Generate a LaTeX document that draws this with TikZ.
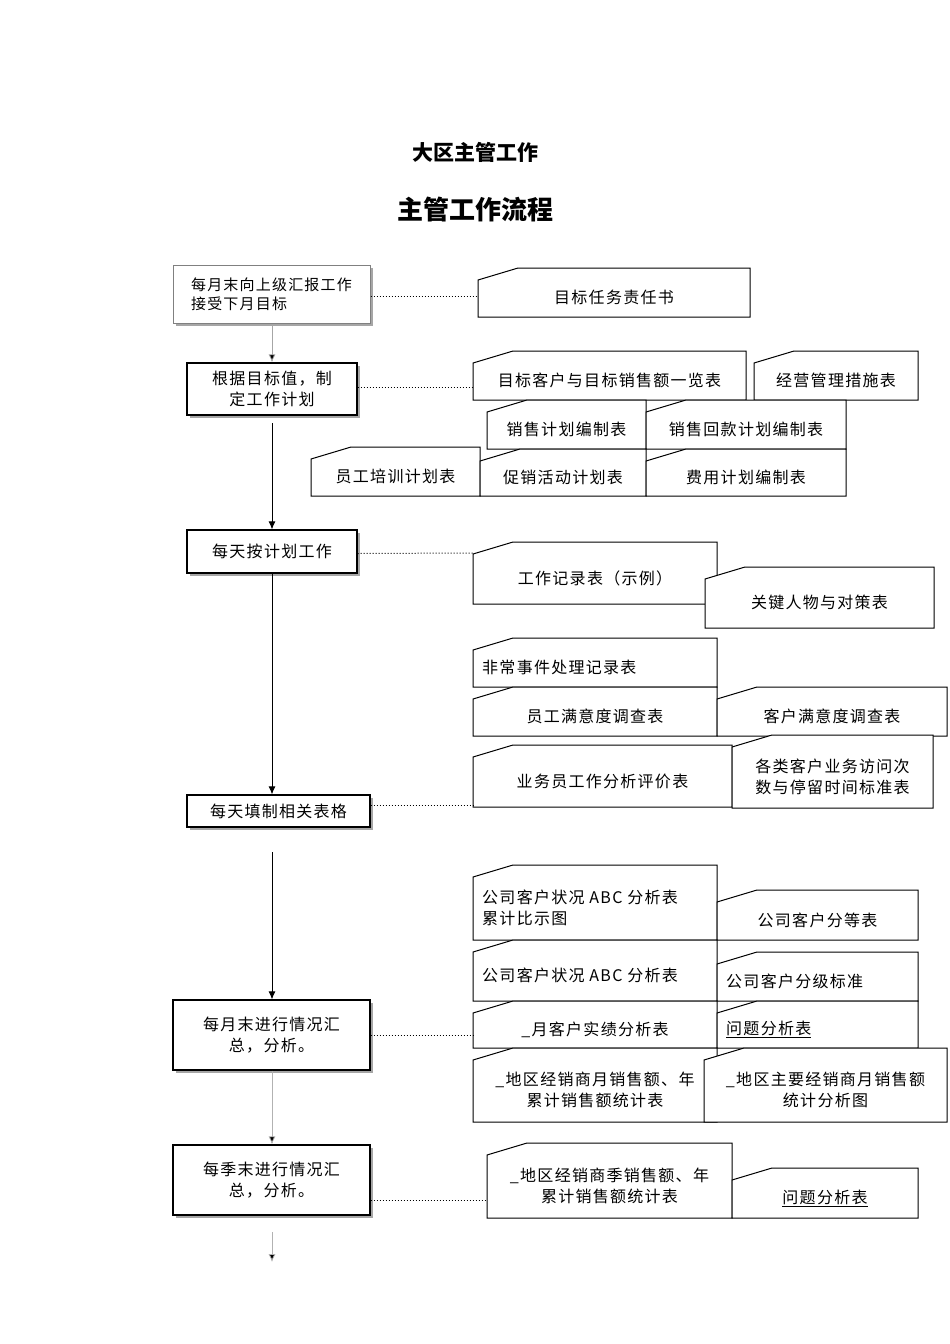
\documentclass[tikz,border=0pt]{standalone}
\usepackage{fontspec}
\setmainfont{Noto Sans CJK SC}[LetterSpace=8]
\usetikzlibrary{shadows,arrows.meta}
\tikzset{
  docline/.style={draw=black,fill=white,line width=1pt},
  doctext/.style={font=\fontsize{16}{21}\selectfont,inner sep=0pt},
  lbox/.style={draw=black,fill=white,line width=1.3pt,inner sep=2pt,align=center,
    font=\fontsize{16}{21}\selectfont,drop shadow={shadow xshift=3pt,shadow yshift=-3pt,fill=gray!70,opacity=1}},
  flow/.style={line width=0.8pt,-{Latex[length=8pt,width=7pt]}},
  dotline/.style={dotted,line width=1pt}
}
\newcommand\docb[6]{%
  \filldraw[docline] (#2,#3+12) -- (#2+40,#3) -- (#4,#3) -- (#4,#5) -- (#2,#5) -- cycle;
  \coordinate (#1w) at (#2,{(#3+#5)/2+4});
  \node[doctext,align=center] (#1) at ({(#2+#4)/2},{(#3+#5)/2+5}) {#6};}
\newcommand\docl[6]{%
  \filldraw[docline] (#2,#3+12) -- (#2+40,#3) -- (#4,#3) -- (#4,#5) -- (#2,#5) -- cycle;
  \coordinate (#1w) at (#2,{(#3+#5)/2+4});
  \node[doctext,align=left,anchor=west] (#1) at (#2+9,{(#3+#5)/2+5}) {#6};}
\begin{document}
\begin{tikzpicture}[x=1pt,y=-1pt]
\useasboundingbox[fill=white] (0,0) rectangle (950,1344);
\node[font=\fontsize{21}{24}\selectfont\bfseries\addfontfeatures{LetterSpace=0}] (t1) at (475,152) {大区主管工作};
\node[font=\fontsize{26}{30}\selectfont\bfseries\addfontfeatures{LetterSpace=0}] (t2) at (475,210) {主管工作流程};
% left boxes
\node[lbox,draw=gray,line width=1pt,minimum width=197pt,minimum height=58pt,align=left,font=\fontsize{15}{19}\selectfont] (B1) at (271.5,294) {每月末向上级汇报工作\\接受下月目标};
\node[lbox,minimum width=170pt,minimum height=52pt] (B2) at (272,389) {根据目标值，制\\定工作计划};
\node[lbox,minimum width=170pt,minimum height=43pt] (B3) at (272,551.5) {每天按计划工作};
\node[lbox,minimum width=183pt,minimum height=32pt] (B4) at (278.5,811) {每天填制相关表格};
\node[lbox,minimum width=197pt,minimum height=70pt] (B5) at (271.5,1035) {每月末进行情况汇\\总，分析。};
\node[lbox,minimum width=197pt,minimum height=70pt] (B6) at (271.5,1180) {每季末进行情况汇\\总，分析。};
\coordinate (c2) at (272,423);
\coordinate (c4) at (272,852);
\coordinate (c6) at (272,1232);
\coordinate (c7) at (272,1262);
\draw[flow,draw=gray!70,-{Latex[length=8pt,width=7pt,fill=black]}] (B1.south -| c2) -- (B2.north -| c2);
\draw[flow] (c2) -- (B3.north -| c2);
\draw[flow] (B3.south -| c2) -- (B4.north -| c2);
\draw[flow] (c4) -- (B5.north -| c4);
\draw[flow,draw=gray!60,-{Latex[length=8pt,width=7pt,fill=black]}] (B5.south -| c4) -- (B6.north -| c4);
\draw[flow,draw=gray!60,-{Latex[length=8pt,width=7pt,fill=black]}] (c6) -- (c7);
% documents
\docb{D1}{478}{268}{750}{317}{目标任务责任书}
\docb{D2}{473}{351}{746}{400}{目标客户与目标销售额一览表}
\docb{D3}{754}{351}{918}{400}{经营管理措施表}
\docb{D4}{487}{400}{646}{449}{销售计划编制表}
\docb{D5}{646}{400}{846}{449}{销售回款计划编制表}
\docb{D6}{311}{447}{480}{496}{员工培训计划表}
\docb{D7}{480}{449}{646}{496}{促销活动计划表}
\docb{D8}{646}{449}{846}{496}{费用计划编制表}
\docb{D9}{473}{542}{717}{604}{工作记录表（示例）}
\docb{D10}{705}{567}{934}{628}{关键人物与对策表}
\docl{D11}{473}{638}{717}{687}{非常事件处理记录表}
\docb{D12}{473}{687}{717}{736}{员工满意度调查表}
\docb{D13}{717}{687}{947}{736}{客户满意度调查表}
\docb{D14}{473}{745}{732}{807}{业务员工作分析评价表}
\docb{D15}{732}{735}{933}{808}{各类客户业务访问次\\数与停留时间标准表}
\docl{D16}{473}{865}{717}{940}{公司客户状况 ABC 分析表\\累计比示图}
\docb{D17}{717}{890}{918}{940}{公司客户分等表}
\docl{D18}{473}{940}{717}{1001}{公司客户状况 ABC 分析表}
\docl{D19}{717}{952}{918}{1001}{公司客户分级标准}
\docb{D20}{473}{1001}{717}{1048}{\_月客户实绩分析表}
\docl{D21}{717}{1001}{918}{1048}{\underline{问题分析表}}
\docb{D22}{473}{1048}{717}{1122}{\_地区经销商月销售额、年\\累计销售额统计表}
\docb{D23}{704}{1048}{947}{1122}{\_地区主要经销商月销售额\\统计分析图}
\docb{D24}{487}{1143}{732}{1218}{\_地区经销商季销售额、年\\累计销售额统计表}
\docb{D25}{732}{1168}{918}{1218}{\underline{问题分析表}}
% dotted connectors
\draw[dotline] (B1.east |- D1w) -- (D1w);
\draw[dotline] (B2.east |- D2w) ++(0,8) -- ++(116,0);
\draw[dotline] (B3.east) ++(0,2) -- (D9w |- 0,553);
\draw[dotline] (B4.east) ++(0,-6) -- (D14w |- 0,805);
\draw[dotline] (B5.east) -- (D20w |- B5.east);
\draw[dotline] (B6.east) ++(0,20) -- (D24w |- 0,1200);
\end{tikzpicture}
\end{document}
